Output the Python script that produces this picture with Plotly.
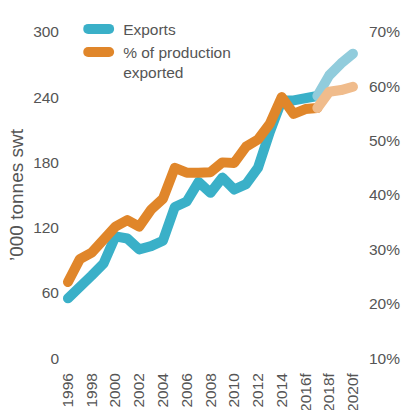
import plotly.graph_objects as go

# Annual seafood exports ('000 tonnes swt) and share of production exported (%)
years = list(range(1996, 2021))
exports = [55, 67, 76, 87, 112, 110, 100, 103, 108, 139, 144, 162, 152, 166, 155,
           160, 175, 208, 237, 237, 239, 241, 260, 271, 280]
share_exported = [24.0, 28.2, 29.4, 32.1, 34.2, 35.4, 34.2, 37.3, 39.3, 45.0, 44.1, 44.1,
                  44.2, 46.0, 45.9, 48.9, 50.2, 53.1, 58.0, 54.9, 55.8, 56.0, 59.0, 59.3, 59.9]
forecast_start = 2017  # forecast segment begins here

tick_years = list(range(1996, 2021, 2))
tick_text = ["1996", "1998", "2000", "2002", "2004", "2006", "2008", "2010", "2012",
             "2014", "2016f", "2018f", "2020f"]
left_ticks = [0, 60, 120, 180, 240, 300]
right_ticks = [10, 20, 30, 40, 50, 60, 70]
right_text = [f"{v}%" for v in right_ticks]

BLUE = "#3AB0C8"
BLUE_LIGHT = "#91CCDC"
ORANGE = "#E0862A"
ORANGE_LIGHT = "#F0BC8C"
TEXT = "#555555"
FONT = "Liberation Sans, Arial, sans-serif"

k = years.index(forecast_start)

fig = go.Figure()
fig.add_trace(go.Scatter(x=years[:k + 1], y=exports[:k + 1], mode="lines",
                         line=dict(color=BLUE, width=10), name="Exports"))
fig.add_trace(go.Scatter(x=years[k:], y=exports[k:], mode="lines",
                         line=dict(color=BLUE_LIGHT, width=10), showlegend=False))
fig.add_trace(go.Scatter(x=years[:k + 1], y=share_exported[:k + 1], mode="lines", yaxis="y2",
                         line=dict(color=ORANGE, width=10),
                         name="% of production<br>exported"))
fig.add_trace(go.Scatter(x=years[k:], y=share_exported[k:], mode="lines", yaxis="y2",
                         line=dict(color=ORANGE_LIGHT, width=10), showlegend=False))

fig.update_layout(
    width=403, height=410,
    margin=dict(l=60, r=41, t=13, b=41),
    paper_bgcolor="white", plot_bgcolor="white",
    font=dict(family=FONT, size=15.5, color=TEXT),
    showlegend=True,
    legend=dict(x=0.0766, y=1.025, xanchor="left", yanchor="top", valign="top",
                bgcolor="rgba(0,0,0,0)", font=dict(size=15.5, color=TEXT),
                tracegroupgap=0, itemwidth=30),
    xaxis=dict(range=[1995.33, 2020.76], tickmode="array", tickvals=tick_years,
               ticktext=tick_text, tickangle=-90, showgrid=False, zeroline=False,
               showline=False, ticks="", fixedrange=True, automargin=False),
    yaxis=dict(range=[-10, 310], tickmode="array", tickvals=left_ticks,
               showgrid=False, zeroline=False, showline=False, ticks="",
               automargin=False,
               title=dict(text="\u2019000 tonnes swt", standoff=4)),
    yaxis2=dict(range=[8, 72], overlaying="y", side="right", tickmode="array",
                tickvals=right_ticks, ticktext=right_text, showgrid=False,
                zeroline=False, showline=False, ticks="", ticklabelstandoff=6,
                automargin=False),
)

# Round line caps/joins for the thick series lines and shorter legend swatches
post = (
    "var s=document.createElement('style');"
    "s.textContent='.scatterlayer .js-line{stroke-linecap:round;stroke-linejoin:round}"
    ".legendlines path{stroke-linecap:round;stroke-dasharray:21px 200px !important}';"
    "document.head.appendChild(s);"
)
fig.write_html("out.html", post_script=post)
